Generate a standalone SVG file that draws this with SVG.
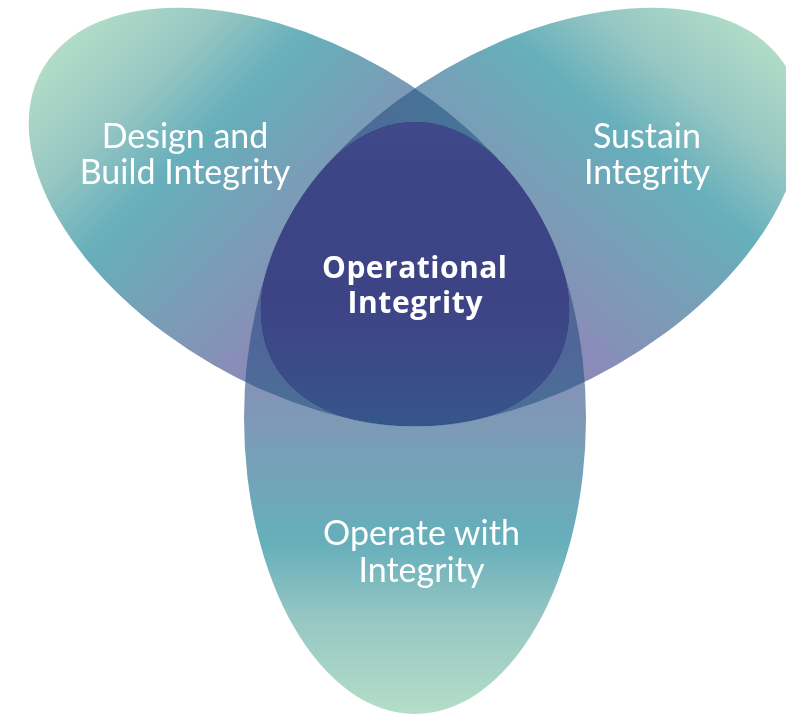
<svg xmlns="http://www.w3.org/2000/svg" xmlns:xlink="http://www.w3.org/1999/xlink" width="786" height="714" viewBox="0 0 786 714">
  <style>
    .label { font-family: Lato, "Open Sans", "Liberation Sans", sans-serif; font-size: 34px; fill: #ffffff; text-anchor: middle; }
    .core { font-family: "Open Sans", "Liberation Sans", sans-serif; font-weight: 700; font-size: 30px; fill: #ffffff; text-anchor: middle; }
    .overlap { fill: #94bbd4; }
    .blend { mix-blend-mode: multiply; }
  </style>
  <defs>
    <!-- one petal; the other two are the same ellipse turned by 120 degrees about the hub -->
    <ellipse id="petal" cx="415" cy="418" rx="171" ry="296"/>

    <clipPath id="clipBottom"><use xlink:href="#petal"/></clipPath>
    <clipPath id="clipLeft"><use xlink:href="#petal" transform="rotate(120 415 284)"/></clipPath>
    <clipPath id="clipRight"><use xlink:href="#petal" transform="rotate(-120 415 284)"/></clipPath>

    <!-- gradients are given in the petal's own (unrotated) frame: mint at the outer tip, lavender at the hub -->
    <linearGradient id="gBottom" gradientUnits="userSpaceOnUse" x1="415" y1="714" x2="415" y2="122">
      <stop offset="0" stop-color="#b4dec8"/>
      <stop offset="0.16" stop-color="#97c7c3"/>
      <stop offset="0.29" stop-color="#66afbb"/>
      <stop offset="0.48" stop-color="#7c9bb6"/>
      <stop offset="0.62" stop-color="#8a8bb8"/>
      <stop offset="1" stop-color="#8a8bb8"/>
    </linearGradient>
    <linearGradient id="gLeft" gradientUnits="userSpaceOnUse" x1="338.4" y1="703.9" x2="491.6" y2="132.1">
      <stop offset="0" stop-color="#b4dec8"/>
      <stop offset="0.16" stop-color="#97c7c3"/>
      <stop offset="0.29" stop-color="#66afbb"/>
      <stop offset="0.48" stop-color="#7c9bb6"/>
      <stop offset="0.62" stop-color="#8a8bb8"/>
      <stop offset="1" stop-color="#8a8bb8"/>
    </linearGradient>
    <linearGradient id="gRight" gradientUnits="userSpaceOnUse" x1="516.2" y1="696.2" x2="313.8" y2="139.8">
      <stop offset="0" stop-color="#b4dec8"/>
      <stop offset="0.16" stop-color="#97c7c3"/>
      <stop offset="0.29" stop-color="#66afbb"/>
      <stop offset="0.48" stop-color="#7c9bb6"/>
      <stop offset="0.62" stop-color="#8a8bb8"/>
      <stop offset="1" stop-color="#8a8bb8"/>
    </linearGradient>
    <linearGradient id="gCore" gradientUnits="userSpaceOnUse" x1="415" y1="122" x2="415" y2="430">
      <stop offset="0" stop-color="#3f4a89"/>
      <stop offset="0.15" stop-color="#3e4587"/>
      <stop offset="0.6" stop-color="#3d4486"/>
      <stop offset="0.8" stop-color="#3a4c88"/>
      <stop offset="1" stop-color="#35578b"/>
    </linearGradient>
  </defs>

  <rect width="786" height="714" fill="#ffffff"/>

  <g id="node-design-build">
    <use xlink:href="#petal" transform="rotate(120 415 284)" fill="url(#gLeft)"/>
  </g>
  <g id="node-sustain">
    <use xlink:href="#petal" transform="rotate(-120 415 284)" fill="url(#gRight)"/>
  </g>
  <g id="node-operate">
    <use xlink:href="#petal" fill="url(#gBottom)"/>
  </g>

  <!-- pairwise overlaps darken by multiplying -->
  <g id="overlaps">
    <g class="blend" clip-path="url(#clipLeft)"><use xlink:href="#petal" transform="rotate(-120 415 284)" class="overlap"/></g>
    <g class="blend" clip-path="url(#clipLeft)"><use xlink:href="#petal" class="overlap"/></g>
    <g class="blend" clip-path="url(#clipRight)"><use xlink:href="#petal" class="overlap"/></g>
  </g>

  <!-- shared core where all three petals meet -->
  <g id="node-operational-integrity">
    <g clip-path="url(#clipLeft)">
      <g clip-path="url(#clipRight)">
        <use xlink:href="#petal" fill="url(#gCore)"/>
      </g>
    </g>
    <text class="core" x="414.5" y="278" textLength="185" lengthAdjust="spacing">Operational</text>
    <text class="core" x="415" y="313" textLength="135" lengthAdjust="spacing">Integrity</text>
  </g>

  <g id="labels">
    <text class="label" x="185" y="148">Design and</text>
    <text class="label" x="185" y="184">Build Integrity</text>
    <text class="label" x="647" y="148">Sustain</text>
    <text class="label" x="647" y="184">Integrity</text>
    <text class="label" x="421.5" y="545">Operate with</text>
    <text class="label" x="421.5" y="582">Integrity</text>
  </g>
</svg>
